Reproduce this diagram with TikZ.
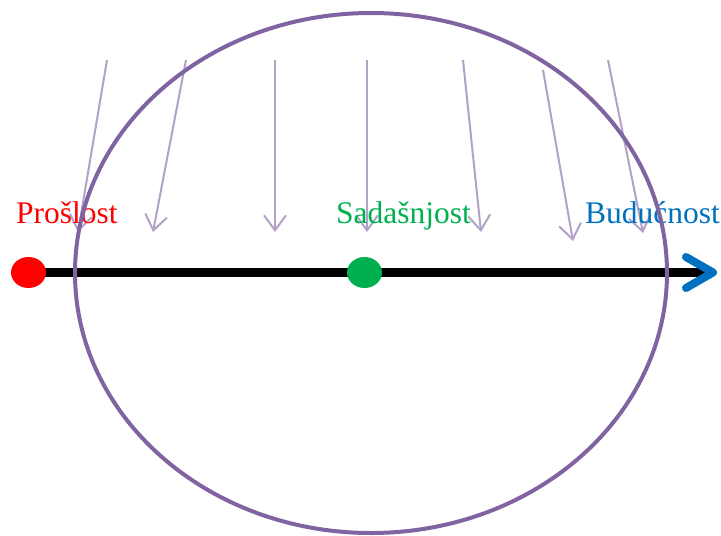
\documentclass[tikz,border=0pt]{standalone}
\usepackage{fontspec}
\setmainfont{Liberation Serif}
\usetikzlibrary{arrows.meta,backgrounds,shapes.geometric}
\definecolor{TimePurple}{HTML}{8064A2}
\definecolor{TimeLilac}{HTML}{B3A2C7}
\definecolor{TimeRed}{HTML}{FF0000}
\definecolor{TimeGreen}{HTML}{00B050}
\definecolor{TimeBlue}{HTML}{0070C0}

\begin{document}
\begin{tikzpicture}[
    x=1pt, y=-1pt,
    timedot/.style={ellipse, inner sep=0pt, minimum width=35pt, minimum height=31pt},
    timelabel/.style={anchor=base west, inner sep=0pt, font=\fontsize{31.5}{36}\selectfont},
    ray/.style={TimeLilac, line width=2pt, -{Straight Barb[length=15pt,width=22pt]}},
    axisline/.style={line width=8.5pt, -{Straight Barb[color=TimeBlue,length=27pt,width=31pt,line width=8pt,round]}},
    ring/.style={TimePurple, line width=4pt}
  ]
    \useasboundingbox (0,0) rectangle (721,536);

    \node[timelabel, TimeRed] (past) at (16,223) {Prošlost};
    \node[timelabel, TimeGreen] (present) at (336,223) {Sadašnjost};
    \node[timelabel, TimeBlue] (future) at (585,223) {Budućnost};

    \node[timedot, fill=TimeRed] (pastdot) at (28.5,272.5) {};
    \node[timedot, fill=TimeGreen] (nowdot) at (364.5,272.5) {};
    \coordinate (axisend) at (717,272.5);

    \begin{scope}[on background layer]
      % falling rays
      \foreach \i/\xa/\ya/\xb/\yb in {1/107/60/78/232, 2/186/60/153/232, 3/275/60/275/232,
          4/367/60/367/232, 5/463/60/481/232, 6/543/70/573/241, 7/608/60/643/233} {
        \coordinate (top\i) at (\xa,\ya);
        \coordinate (tip\i) at (\xb,\yb);
        \draw[ray] (top\i) -- (tip\i);
      }
      \draw[axisline] (pastdot.center) -- (axisend);
    \end{scope}

    \draw[ring] (371,273) ellipse [x radius=296, y radius=260];
  \end{tikzpicture}
\end{document}
